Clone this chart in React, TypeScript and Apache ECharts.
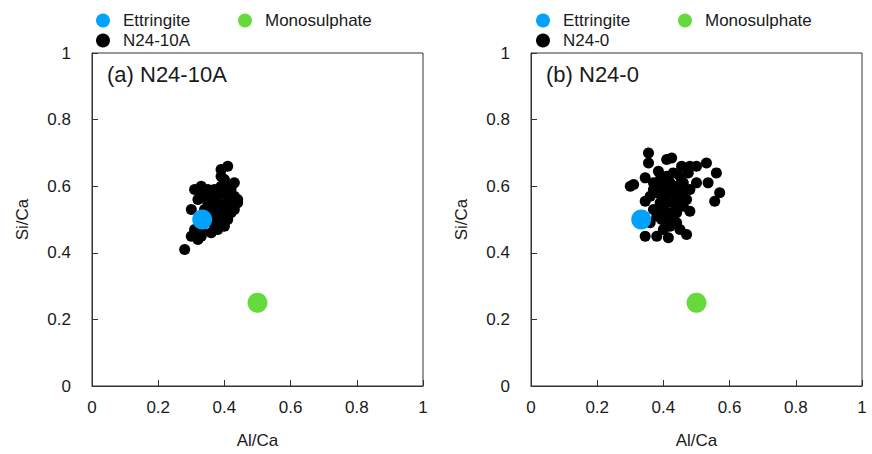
import React, { useEffect, useRef } from "react";
import * as echarts from "echarts";

const FONT = "'Liberation Sans', Arial, Helvetica, sans-serif";

const axisTicks = [0, 0.2, 0.4, 0.6, 0.8, 1];
const ettringite: number[][] = [[0.333, 0.5]];
const monosulphate: number[][] = [[0.5, 0.25]];

const n2410A: number[][] = [
  [0.28, 0.41], [0.32, 0.44], [0.31, 0.46], [0.33, 0.45], [0.36, 0.46], [0.4, 0.48],
  [0.38, 0.49], [0.35, 0.5], [0.37, 0.52], [0.39, 0.51], [0.41, 0.5], [0.42, 0.52],
  [0.43, 0.53], [0.44, 0.55], [0.43, 0.57], [0.42, 0.55], [0.4, 0.54], [0.38, 0.55],
  [0.36, 0.54], [0.34, 0.53], [0.3, 0.53], [0.32, 0.56], [0.34, 0.57], [0.36, 0.58],
  [0.38, 0.57], [0.4, 0.58], [0.41, 0.6], [0.43, 0.61], [0.42, 0.59], [0.39, 0.6],
  [0.37, 0.59], [0.35, 0.59], [0.33, 0.6], [0.31, 0.59], [0.33, 0.58], [0.4, 0.62],
  [0.39, 0.63], [0.41, 0.66], [0.39, 0.65], [0.37, 0.56], [0.35, 0.55], [0.41, 0.56],
  [0.39, 0.53], [0.36, 0.51], [0.34, 0.49], [0.37, 0.48], [0.42, 0.57], [0.44, 0.56],
  [0.4, 0.52], [0.38, 0.47], [0.31, 0.47], [0.33, 0.47], [0.3, 0.45],
];

const n240: number[][] = [
  [0.355, 0.7], [0.355, 0.67], [0.41, 0.68], [0.425, 0.685], [0.455, 0.66], [0.48, 0.66],
  [0.5, 0.66], [0.53, 0.67], [0.385, 0.645], [0.475, 0.64], [0.56, 0.64], [0.345, 0.625],
  [0.31, 0.605], [0.3, 0.6], [0.5, 0.61], [0.535, 0.61], [0.37, 0.59], [0.57, 0.58],
  [0.555, 0.555], [0.345, 0.555], [0.48, 0.525], [0.44, 0.52], [0.395, 0.5], [0.42, 0.48],
  [0.45, 0.47], [0.47, 0.455], [0.345, 0.45], [0.38, 0.45], [0.415, 0.445],
  [0.39, 0.62], [0.41, 0.63], [0.43, 0.64], [0.45, 0.63], [0.4, 0.6], [0.42, 0.61],
  [0.44, 0.6], [0.46, 0.61], [0.38, 0.58], [0.4, 0.57], [0.42, 0.58], [0.44, 0.57],
  [0.46, 0.58], [0.48, 0.59], [0.39, 0.55], [0.41, 0.55], [0.43, 0.55], [0.45, 0.55],
  [0.47, 0.56], [0.37, 0.53], [0.4, 0.53], [0.42, 0.52], [0.44, 0.535], [0.46, 0.54],
  [0.38, 0.51], [0.41, 0.5], [0.43, 0.5], [0.36, 0.57], [0.37, 0.61], [0.36, 0.49],
  [0.4, 0.47], [0.44, 0.49],
];

const BLUE = "#00a2ff";
const GREEN = "#66d93d";
const AXIS = "#333333";
const TEXT = "#1a1a1a";

function App() {
  const ref = useRef<HTMLDivElement>(null);
  useEffect(() => {
    if (!ref.current) return;
    const chart = echarts.init(ref.current, undefined, { renderer: "svg" });

    const grids = [
      { left: 92, top: 53, width: 331, height: 335 },
      { left: 531, top: 53, width: 331, height: 335 },
    ];

    const mkX = (gi: number) => ({
      type: "value",
      gridIndex: gi,
      min: 0,
      max: 1,
      interval: 0.2,
      name: "Al/Ca",
      nameLocation: "middle",
      nameGap: 46,
      nameTextStyle: { fontFamily: FONT, fontSize: 17, color: TEXT },
      axisLine: { show: true, lineStyle: { color: AXIS, width: 1 } },
      axisTick: { show: true, inside: true, length: 6, lineStyle: { color: AXIS } },
      axisLabel: {
        fontFamily: FONT,
        fontSize: 17,
        color: TEXT,
        margin: 13,
        formatter: (v: number) => String(Number(v.toFixed(1))),
      },
      splitLine: { show: false },
    });
    const mkY = (gi: number) => ({
      type: "value",
      gridIndex: gi,
      min: 0,
      max: 1,
      interval: 0.2,
      name: "Si/Ca",
      nameLocation: "middle",
      nameGap: 61,
      nameTextStyle: { fontFamily: FONT, fontSize: 17, color: TEXT },
      axisLine: { show: true, lineStyle: { color: AXIS, width: 1 } },
      axisTick: { show: true, inside: true, length: 6, lineStyle: { color: AXIS } },
      axisLabel: {
        fontFamily: FONT,
        fontSize: 17,
        color: TEXT,
        margin: 21,
        formatter: (v: number) => String(Number(v.toFixed(1))),
      },
      splitLine: { show: false },
    });

    const legendBase = {
      orient: "horizontal",
      padding: 0,
      itemWidth: 30,
      itemHeight: 14,
      icon: "circle",
      symbolKeepAspect: true,
      selectedMode: false,
      textStyle: { fontFamily: FONT, fontSize: 17, color: TEXT },
    };

    const option: any = {
      animation: false,
      backgroundColor: "#ffffff",
      grid: grids.map((g) => ({ ...g, show: true, borderColor: AXIS, borderWidth: 1, backgroundColor: "transparent" })),
      xAxis: [mkX(0), mkX(1)],
      yAxis: [mkY(0), mkY(1)],
      legend: [
        { ...legendBase, left: 96, top: 12, data: ["Ettringite"] },
        { ...legendBase, left: 238, top: 12, data: ["Monosulphate"] },
        { ...legendBase, left: 96, top: 32, data: ["N24-10A"] },
        { ...legendBase, left: 536, top: 12, data: ["Ettringite"] },
        { ...legendBase, left: 678, top: 12, data: ["Monosulphate"] },
        { ...legendBase, left: 536, top: 32, data: ["N24-0"] },
      ],
      graphic: [
        {
          type: "text",
          left: 107,
          top: 63,
          style: { text: "(a) N24-10A", fontFamily: FONT, fontSize: 22, fill: TEXT },
        },
        {
          type: "text",
          left: 546,
          top: 63,
          style: { text: "(b) N24-0", fontFamily: FONT, fontSize: 22, fill: TEXT },
        },
      ],
      series: [
        {
          name: "N24-10A",
          type: "scatter",
          xAxisIndex: 0,
          yAxisIndex: 0,
          data: n2410A,
          symbolSize: 11,
          itemStyle: { color: "#000000", opacity: 1 },
          z: 2,
        },
        {
          name: "Ettringite",
          type: "scatter",
          xAxisIndex: 0,
          yAxisIndex: 0,
          data: ettringite,
          symbolSize: 20,
          itemStyle: { color: BLUE, opacity: 1 },
          z: 3,
        },
        {
          name: "Monosulphate",
          type: "scatter",
          xAxisIndex: 0,
          yAxisIndex: 0,
          data: monosulphate,
          symbolSize: 20,
          itemStyle: { color: GREEN, opacity: 1 },
          z: 3,
        },
        {
          name: "N24-0",
          type: "scatter",
          xAxisIndex: 1,
          yAxisIndex: 1,
          data: n240,
          symbolSize: 11,
          itemStyle: { color: "#000000", opacity: 1 },
          z: 2,
        },
        {
          name: "Ettringite",
          type: "scatter",
          xAxisIndex: 1,
          yAxisIndex: 1,
          data: ettringite,
          symbolSize: 20,
          itemStyle: { color: BLUE, opacity: 1 },
          z: 3,
        },
        {
          name: "Monosulphate",
          type: "scatter",
          xAxisIndex: 1,
          yAxisIndex: 1,
          data: monosulphate,
          symbolSize: 20,
          itemStyle: { color: GREEN, opacity: 1 },
          z: 3,
        },
      ],
    };

    chart.setOption(option);
    return () => chart.dispose();
  }, []);

  return (
    <div
      ref={ref}
      style={{ position: "fixed", left: 0, top: 0, width: 872, height: 454, background: "#fff" }}
    />
  );
}

export default App;
